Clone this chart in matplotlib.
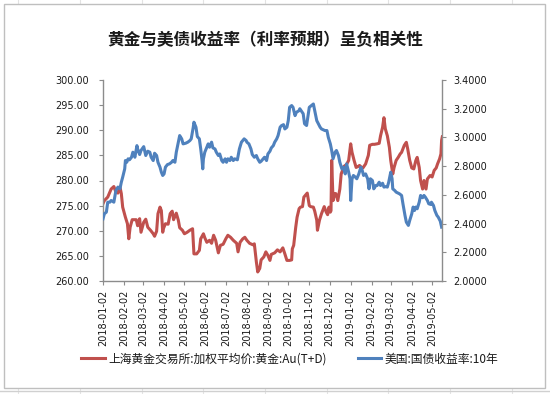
"""
Gold (SGE Au(T+D)) vs US 10Y treasury yield, 2018-01 .. 2019-05
"""
import numpy as np
import pandas as pd
import matplotlib
matplotlib.use("Agg")
import matplotlib.pyplot as plt
import matplotlib.dates as mdates
from matplotlib.patches import Rectangle
from matplotlib.ticker import FormatStrFormatter, MultipleLocator

plt.rcParams['font.family'] = ['Noto Sans CJK SC', 'DejaVu Sans']

# ---- data ----
gold_dates = [
    "2018-01-02", "2018-01-04", "2018-01-09", "2018-01-14", "2018-01-18", "2018-01-21",
    "2018-01-24", "2018-01-27", "2018-01-29", "2018-01-31", "2018-02-04", "2018-02-07",
    "2018-02-09", "2018-02-11", "2018-02-14", "2018-02-20", "2018-02-22", "2018-02-25",
    "2018-02-27", "2018-03-03", "2018-03-06", "2018-03-09", "2018-03-13", "2018-03-17",
    "2018-03-19", "2018-03-22", "2018-03-24", "2018-03-27", "2018-03-29", "2018-03-31",
    "2018-04-01", "2018-04-04", "2018-04-08", "2018-04-11", "2018-04-14", "2018-04-16",
    "2018-04-20", "2018-04-23", "2018-04-25", "2018-04-29", "2018-05-02", "2018-05-06",
    "2018-05-10", "2018-05-14", "2018-05-16", "2018-05-20", "2018-05-24", "2018-05-26",
    "2018-05-30", "2018-06-01", "2018-06-04", "2018-06-08", "2018-06-11", "2018-06-14",
    "2018-06-17", "2018-06-21", "2018-06-24", "2018-06-28", "2018-07-02", "2018-07-05",
    "2018-07-09", "2018-07-13", "2018-07-18", "2018-07-20", "2018-07-23", "2018-07-27",
    "2018-07-30", "2018-08-02", "2018-08-06", "2018-08-11", "2018-08-13", "2018-08-16",
    "2018-08-18", "2018-08-21", "2018-08-23", "2018-08-27", "2018-08-30", "2018-09-02",
    "2018-09-05", "2018-09-07", "2018-09-12", "2018-09-16", "2018-09-20", "2018-09-24",
    "2018-09-27", "2018-09-30", "2018-10-04", "2018-10-07", "2018-10-08", "2018-10-10",
    "2018-10-13", "2018-10-15", "2018-10-18", "2018-10-20", "2018-10-23", "2018-10-25",
    "2018-10-28", "2018-10-30", "2018-11-02", "2018-11-04", "2018-11-08", "2018-11-10",
    "2018-11-13", "2018-11-14", "2018-11-17", "2018-11-20", "2018-11-24", "2018-11-27",
    "2018-11-29", "2018-12-01", "2018-12-03", "2018-12-04", "2018-12-05", "2018-12-07",
    "2018-12-09", "2018-12-11", "2018-12-14", "2018-12-17", "2018-12-19", "2018-12-23",
    "2018-12-27", "2018-12-30", "2019-01-02", "2019-01-04", "2019-01-07", "2019-01-10",
    "2019-01-13", "2019-01-15", "2019-01-18", "2019-01-20", "2019-01-24", "2019-01-28",
    "2019-01-30", "2019-02-03", "2019-02-06", "2019-02-10", "2019-02-13", "2019-02-15",
    "2019-02-18", "2019-02-20", "2019-02-22", "2019-02-25", "2019-02-28", "2019-03-02",
    "2019-03-05", "2019-03-07", "2019-03-10", "2019-03-13", "2019-03-16", "2019-03-18",
    "2019-03-22", "2019-03-25", "2019-03-27", "2019-03-30", "2019-04-02", "2019-04-05",
    "2019-04-08", "2019-04-10", "2019-04-13", "2019-04-15", "2019-04-18", "2019-04-20",
    "2019-04-23", "2019-04-25", "2019-04-29", "2019-05-02", "2019-05-05", "2019-05-08",
    "2019-05-10", "2019-05-13", "2019-05-15", "2019-05-16", "2019-05-17",
]
gold_vals = [
    275.4, 276.0, 276.7, 278.3, 278.8, 277.7,
    277.5, 278.7, 277.4, 274.7, 272.7, 271.4,
    268.4, 270.7, 272.2, 272.2, 271.0, 272.4,
    269.7, 271.7, 272.3, 270.7, 270.1, 269.4,
    268.9, 269.9, 273.4, 274.7, 274.0, 269.7,
    270.4, 271.4, 271.3, 273.4, 273.9, 272.2,
    273.5, 272.1, 270.6, 270.1, 269.4, 269.7,
    270.1, 270.4, 265.4, 265.4, 266.1, 268.4,
    269.4, 268.6, 267.7, 268.1, 267.5, 269.1,
    268.1, 265.6, 267.1, 267.3, 268.4, 269.1,
    268.7, 268.1, 267.5, 265.8, 267.7, 268.4,
    268.7, 268.1, 267.5, 267.2, 267.4, 263.8,
    261.8, 262.5, 264.2, 264.8, 265.8, 265.1,
    264.1, 265.3, 265.6, 266.2, 265.8, 266.6,
    265.4, 264.1, 264.1, 264.2, 266.4, 267.1,
    270.7, 272.7, 274.4, 274.7, 274.8, 276.7,
    277.2, 277.5, 275.0, 274.8, 274.7, 273.9,
    272.1, 270.1, 272.1, 273.4, 274.8, 273.7,
    273.2, 274.7, 273.7, 274.0, 284.0, 276.0,
    277.4, 277.4, 276.0, 278.3, 281.3, 282.8,
    283.2, 284.0, 287.3, 285.6, 284.0, 282.6,
    282.8, 283.0, 282.6, 282.5, 283.3, 285.0,
    287.0, 287.2, 287.2, 287.3, 287.4, 288.9,
    290.6, 292.5, 290.3, 288.9, 286.6, 284.0,
    281.3, 282.6, 284.0, 284.6, 285.3, 285.6,
    287.0, 287.6, 286.3, 284.0, 282.5, 282.3,
    284.0, 284.6, 282.6, 280.0, 278.3, 280.0,
    278.3, 280.3, 281.0, 280.7, 282.0, 282.5,
    283.3, 284.3, 285.3, 288.0, 288.7,
]

yield_dates = [
    "2018-01-02", "2018-01-04", "2018-01-07", "2018-01-09", "2018-01-12", "2018-01-14",
    "2018-01-18", "2018-01-21", "2018-01-24", "2018-01-27", "2018-01-29", "2018-01-31",
    "2018-02-03", "2018-02-04", "2018-02-06", "2018-02-08", "2018-02-10", "2018-02-13",
    "2018-02-15", "2018-02-18", "2018-02-21", "2018-02-22", "2018-02-25", "2018-02-27",
    "2018-03-03", "2018-03-06", "2018-03-09", "2018-03-12", "2018-03-14", "2018-03-17",
    "2018-03-19", "2018-03-22", "2018-03-24", "2018-03-27", "2018-03-29", "2018-03-31",
    "2018-04-02", "2018-04-04", "2018-04-07", "2018-04-10", "2018-04-13", "2018-04-15",
    "2018-04-18", "2018-04-20", "2018-04-23", "2018-04-25", "2018-04-28", "2018-04-30",
    "2018-05-04", "2018-05-07", "2018-05-10", "2018-05-12", "2018-05-15", "2018-05-16",
    "2018-05-19", "2018-05-21", "2018-05-24", "2018-05-26", "2018-05-28", "2018-05-29",
    "2018-05-30", "2018-06-01", "2018-06-03", "2018-06-06", "2018-06-08", "2018-06-11",
    "2018-06-13", "2018-06-16", "2018-06-18", "2018-06-21", "2018-06-23", "2018-06-26",
    "2018-06-28", "2018-07-01", "2018-07-03", "2018-07-05", "2018-07-08", "2018-07-10",
    "2018-07-13", "2018-07-15", "2018-07-19", "2018-07-22", "2018-07-25", "2018-07-29",
    "2018-08-01", "2018-08-02", "2018-08-05", "2018-08-08", "2018-08-10", "2018-08-13",
    "2018-08-16", "2018-08-18", "2018-08-21", "2018-08-23", "2018-08-26", "2018-08-28",
    "2018-08-31", "2018-09-02", "2018-09-05", "2018-09-07", "2018-09-10", "2018-09-12",
    "2018-09-15", "2018-09-17", "2018-09-20", "2018-09-22", "2018-09-25", "2018-09-27",
    "2018-09-30", "2018-10-02", "2018-10-04", "2018-10-07", "2018-10-09", "2018-10-12",
    "2018-10-14", "2018-10-18", "2018-10-19", "2018-10-24", "2018-10-26", "2018-10-29",
    "2018-11-02", "2018-11-05", "2018-11-08", "2018-11-10", "2018-11-13", "2018-11-18",
    "2018-11-20", "2018-11-25", "2018-11-28", "2018-11-30", "2018-12-03", "2018-12-05",
    "2018-12-07", "2018-12-10", "2018-12-12", "2018-12-15", "2018-12-17", "2018-12-20",
    "2018-12-22", "2018-12-25", "2018-12-27", "2018-12-30", "2019-01-01", "2019-01-02",
    "2019-01-04", "2019-01-06", "2019-01-09", "2019-01-11", "2019-01-14", "2019-01-17",
    "2019-01-19", "2019-01-21", "2019-01-24", "2019-01-27", "2019-01-29", "2019-01-31",
    "2019-02-03", "2019-02-05", "2019-02-08", "2019-02-10", "2019-02-13", "2019-02-15",
    "2019-02-18", "2019-02-20", "2019-02-23", "2019-02-25", "2019-02-27", "2019-03-01",
    "2019-03-02", "2019-03-04", "2019-03-05", "2019-03-08", "2019-03-10", "2019-03-13",
    "2019-03-15", "2019-03-18", "2019-03-20", "2019-03-23", "2019-03-25", "2019-03-28",
    "2019-03-30", "2019-04-02", "2019-04-04", "2019-04-06", "2019-04-08", "2019-04-10",
    "2019-04-13", "2019-04-15", "2019-04-18", "2019-04-20", "2019-04-22", "2019-04-25",
    "2019-04-27", "2019-04-30", "2019-05-01", "2019-05-04", "2019-05-06", "2019-05-09",
    "2019-05-11", "2019-05-14", "2019-05-16",
]
yield_vals = [
    2.433, 2.468, 2.480, 2.549, 2.549, 2.561,
    2.549, 2.630, 2.654, 2.642, 2.688, 2.723,
    2.781, 2.839, 2.827, 2.851, 2.844, 2.862,
    2.897, 2.862, 2.943, 2.920, 2.881, 2.909,
    2.936, 2.874, 2.904, 2.897, 2.862, 2.839,
    2.890, 2.874, 2.827, 2.793, 2.758, 2.735,
    2.746, 2.793, 2.811, 2.816, 2.827, 2.839,
    2.827, 2.897, 2.967, 3.013, 2.990, 2.955,
    2.960, 2.967, 2.978, 2.990, 3.071, 3.106,
    3.071, 3.006, 2.990, 2.920, 2.839, 2.781,
    2.851, 2.897, 2.920, 2.955, 2.932, 2.967,
    2.927, 2.920, 2.897, 2.874, 2.885, 2.839,
    2.827, 2.851, 2.827, 2.851, 2.839, 2.862,
    2.839, 2.851, 2.844, 2.920, 2.967, 2.990,
    2.978, 2.967, 2.955, 2.920, 2.881, 2.862,
    2.874, 2.851, 2.827, 2.834, 2.851, 2.862,
    2.839, 2.885, 2.904, 2.927, 2.943, 2.967,
    2.990, 3.013, 3.071, 3.082, 3.089, 3.059,
    3.071, 3.117, 3.210, 3.222, 3.210, 3.152,
    3.175, 3.187, 3.200, 3.165, 3.095, 3.083,
    3.210, 3.222, 3.233, 3.187, 3.117, 3.071,
    3.059, 3.048, 3.048, 3.001, 2.955, 2.909,
    2.851, 2.897, 2.909, 2.874, 2.827, 2.781,
    2.793, 2.746, 2.816, 2.758, 2.712, 2.561,
    2.712, 2.735, 2.723, 2.712, 2.746, 2.793,
    2.770, 2.735, 2.746, 2.712, 2.642, 2.712,
    2.700, 2.642, 2.665, 2.665, 2.688, 2.665,
    2.681, 2.654, 2.658, 2.654, 2.688, 2.735,
    2.758, 2.712, 2.642, 2.630, 2.619, 2.612,
    2.607, 2.596, 2.538, 2.457, 2.410, 2.387,
    2.422, 2.468, 2.515, 2.491, 2.515, 2.503,
    2.549, 2.596, 2.580, 2.596, 2.584, 2.561,
    2.538, 2.533, 2.549, 2.526, 2.491, 2.457,
    2.445, 2.417, 2.375,
]

tick_dates = ["2018-01-02", "2018-02-02", "2018-03-02", "2018-04-02", "2018-05-02",
              "2018-06-02", "2018-07-02", "2018-08-02", "2018-09-02", "2018-10-02",
              "2018-11-02", "2018-12-02", "2019-01-02", "2019-02-02", "2019-03-02",
              "2019-04-02", "2019-05-02"]

title = "黄金与美债收益率（利率预期）呈负相关性"
gold_label = "上海黄金交易所:加权平均价:黄金:Au(T+D)"
yield_label = "美国:国债收益率:10年"

RED = "#C0504D"
BLUE = "#4F81BD"
AXIS_GRAY = "#8C8C8C"

W, H = 550, 394
fig = plt.figure(figsize=(W / 100, H / 100), dpi=100)

# spreadsheet cell lines behind the chart object
for x in [18.3, 80, 141.7, 203.3, 265, 326.7, 388.3, 450, 511.7]:
    fig.add_artist(plt.Line2D([x / W, x / W], [0, 1], color="#E3E3E3", lw=0.8, zorder=0))
fig.add_artist(plt.Line2D([0, 1], [1 - 391 / H, 1 - 391 / H], color="#D0D0D0", lw=1.0, zorder=0))
# chart area (white with gray border)
fig.add_artist(Rectangle((4 / W, 1 - 388 / H), 541 / W, 384 / H, transform=fig.transFigure,
                         facecolor="white", edgecolor="#BFBFBF", lw=1.0, zorder=1))

ax = fig.add_axes([103 / W, 1 - 281 / H, 339.3 / W, 201 / H])
ax.set_zorder(2)
ax.patch.set_alpha(0)
ax2 = ax.twinx()
ax2.set_zorder(3)

l1, = ax.plot(pd.to_datetime(gold_dates), gold_vals, color=RED, lw=2.2, solid_joinstyle="round")
l2, = ax2.plot(pd.to_datetime(yield_dates), yield_vals, color=BLUE, lw=2.2, solid_joinstyle="round")

ax.set_xlim(pd.Timestamp("2018-01-02"), pd.Timestamp("2019-05-17"))
ax.set_ylim(260, 300)
ax2.set_ylim(2.0, 3.4)
ax.yaxis.set_major_locator(MultipleLocator(5))
ax.yaxis.set_major_formatter(FormatStrFormatter("%.2f"))
ax2.yaxis.set_major_locator(MultipleLocator(0.2))
ax2.yaxis.set_major_formatter(FormatStrFormatter("%.4f"))

ax.set_xticks(pd.to_datetime(tick_dates))
ax.xaxis.set_major_formatter(mdates.DateFormatter("%Y-%m-%d"))

for a in (ax, ax2):
    a.spines["top"].set_visible(False)
    for s in ("left", "right", "bottom"):
        a.spines[s].set_color(AXIS_GRAY)
        a.spines[s].set_linewidth(1.0)
ax.spines["right"].set_visible(False)
ax2.spines["left"].set_visible(False)
ax2.spines["bottom"].set_visible(False)

ax.tick_params(axis="y", length=3, color=AXIS_GRAY, labelsize=7, pad=7, labelcolor="#1a1a1a")
ax2.tick_params(axis="y", length=3, color=AXIS_GRAY, labelsize=7, pad=5, labelcolor="#1a1a1a")
ax.tick_params(axis="x", length=3, color=AXIS_GRAY, labelsize=7, pad=3, labelcolor="#1a1a1a",
               labelrotation=90)
for lab in ax.get_yticklabels() + ax2.get_yticklabels() + ax.get_xticklabels():
    lab.set_family("DejaVu Sans")

fig.text(265 / W, 1 - 40 / H, title, ha="center", va="center", fontsize=12,
         fontweight="bold", color="#1a1a1a")

leg = fig.legend([l1, l2], [gold_label, yield_label], loc="center",
                 bbox_to_anchor=(290 / W, 1 - 359 / H), ncol=2, frameon=False,
                 fontsize=8.5, handlelength=2.0, handletextpad=0.3, columnspacing=2.6,
                 borderaxespad=0)
for t in leg.get_texts():
    t.set_color("#1a1a1a")

plt.savefig("out.png", dpi=100)
plt.close()
